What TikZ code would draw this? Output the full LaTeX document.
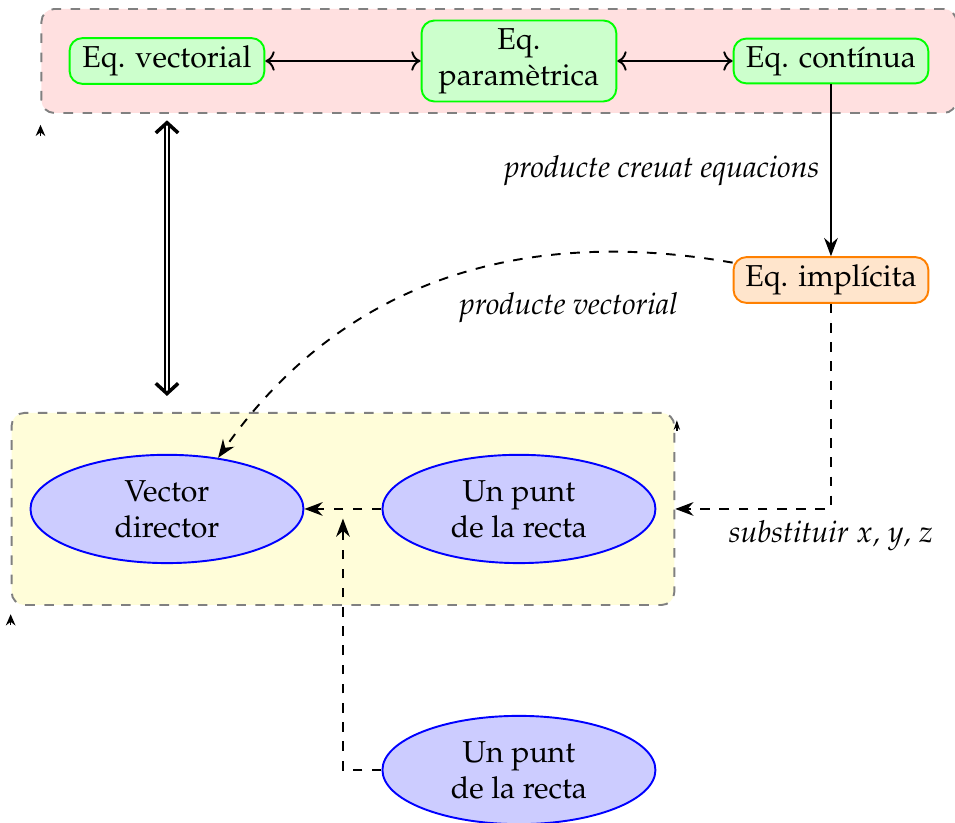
\documentclass[tikz,border=0pt]{standalone}
\usepackage[T1]{fontenc}
\usepackage{mathpazo}
\usetikzlibrary{shapes.geometric, arrows.meta, positioning, fit, backgrounds}
\frenchspacing

\begin{document}
\begin{tikzpicture}[
			every node/.style={font=\fontsize{9.45}{11.3}\selectfont},
			eqbox/.style={draw=green, fill=green!20, semithick, rectangle, rounded corners, text width=2cm, align=center, inner xsep=2pt, inner ysep=2.4pt},
			impbox/.style={eqbox, draw=orange, fill=orange!20},
			elem/.style={ellipse, draw=blue, fill=blue!20, semithick, align=center, minimum width=3cm, minimum height=1.19cm, inner sep=1pt},
			group/.style={draw=gray, dashed, semithick, rounded corners},
			lbl/.style={font=\fontsize{9.45}{11.3}\selectfont\itshape},
			arrow/.style={-Stealth, semithick},
			dasharrow/.style={-Stealth, dashed, semithick},
			dblarrow/.style={{Straight Barb[length=3.2pt, width=7pt, line width=1.1pt]}-{Straight Barb[length=3.2pt, width=7pt, line width=1.1pt]}, double, line width=0.6pt, double distance=0.9pt}
			]
			\useasboundingbox (0,0) rectangle (10.495,-9.044);
			
			% Nodes
			\node (vect) [eqbox] at (1.835,-0.670) {Eq. vectorial};
			\node (param) [eqbox] at (5.703,-0.670) {Eq. param\`etrica};
			\node (cont) [eqbox] at (9.132,-0.670) {Eq. cont\'{\i}nua};
			\node (impl) [impbox] at (9.132,-3.077) {Eq. impl\'{\i}cita};
			\node (dir) [elem] at (1.835,-5.593) {Vector\\director};
			\node (punt) [elem] at (5.703,-5.593) {Un punt\\de la recta};
			\node (puntb) [elem] at (5.703,-8.462) {Un punt\\de la recta};
			
			% Groups
			\begin{scope}[on background layer]
				\node (eqs) [group, fill=red!12, fit=(vect)(param)(cont), inner xsep=8.5pt, inner ysep=3.3pt] {};
				\node (elems) [group, fill=yellow!15, fit=(dir)(punt), inner xsep=5.6pt, inner ysep=12.8pt] {};
			\end{scope}
			\draw [-{Stealth[length=3.5pt, width=3pt]}] ([yshift=-7pt]eqs.south west) -- ([yshift=-3.4pt]eqs.south west);
			\draw [-{Stealth[length=3.5pt, width=3pt]}] ([yshift=-6pt]elems.south west) -- ([yshift=-2.6pt]elems.south west);
			\draw [-{Stealth[length=3pt, width=2pt]}] ([yshift=-6pt, xshift=0.5pt]elems.north east) -- ([yshift=-2.6pt, xshift=0.5pt]elems.north east);
			
			% Connections
			\draw [<->, semithick] (vect) -- (param);
			\draw [<->, semithick] (param) -- (cont);
			\draw [arrow] (cont) -- node[lbl, left] {producte creuat equacions} (impl);
			\draw [dasharrow] (impl.170) to[out=170, in=55] node[lbl, pos=0.27, below=3mm] {producte vectorial} (dir.45);
			\draw [dasharrow] (impl) |- node[lbl, below] {substituir $x$, $y$, $z$} (elems.east);
			\draw [dasharrow] (punt) -- coordinate[midway] (mid) (dir);
			\draw [dasharrow, shorten >=3pt] (puntb) -| (mid);
			\draw [dblarrow, shorten <=2pt, shorten >=5pt] (eqs.south -| vect) -- (elems.north -| vect);
			
		\end{tikzpicture}
\end{document}
